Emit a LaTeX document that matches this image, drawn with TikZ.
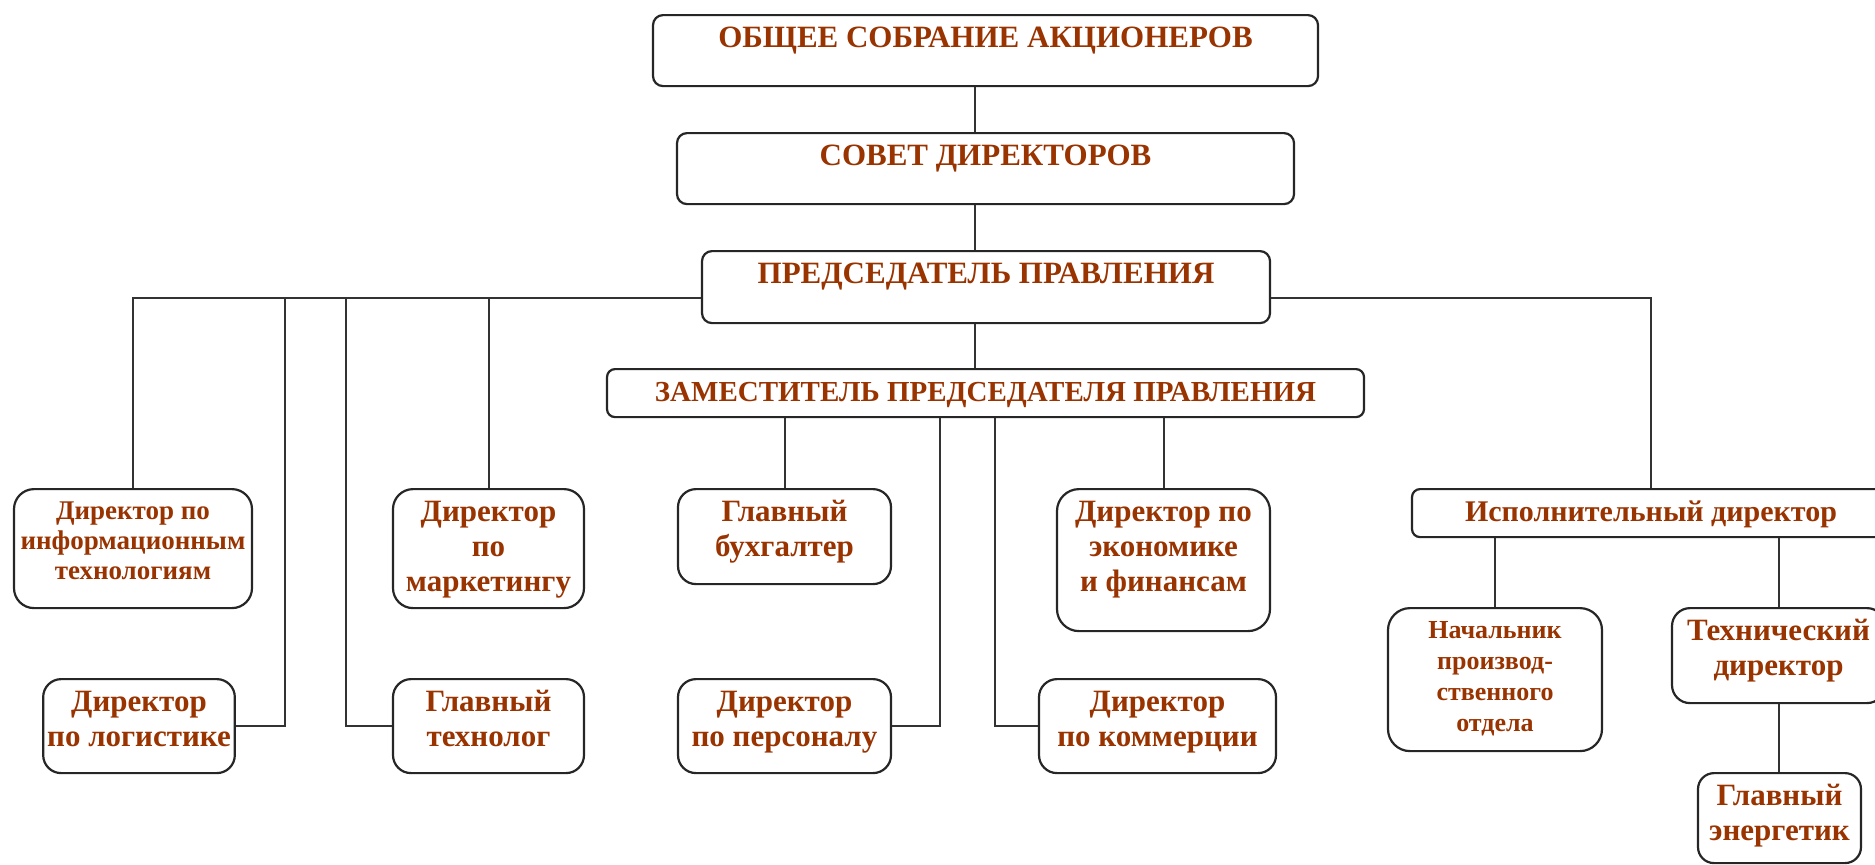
\documentclass[tikz,border=0pt]{standalone}
\usepackage{fontspec}
\setmainfont{Liberation Serif}
\definecolor{txtbrown}{RGB}{153,51,0}
\tikzset{
  unit/.style={draw=black!85, line width=1.1pt, fill=white, align=center, anchor=north,
    inner xsep=2pt, inner ysep=0pt, text height=16pt, text=txtbrown,
    font=\bfseries\fontsize{15.5}{17.5}\selectfont},
  small/.style={font=\bfseries\fontsize{13.5}{15.2}\selectfont},
  link/.style={draw=black!80, line width=1pt}
}
\begin{document}
\begin{tikzpicture}[x=0.5pt, y=-0.5pt]
\useasboundingbox (0,0) rectangle (1875,864);
% top of the chart
\node[unit, minimum width=332.5pt, text depth=19.5pt, rounded corners=5pt] (gsa) at (985.5,14) {ОБЩЕЕ СОБРАНИЕ АКЦИОНЕРОВ};
\node[unit, minimum width=308.5pt, text depth=19.5pt, rounded corners=5pt] (sd) at (985.5,132) {СОВЕТ ДИРЕКТОРОВ};
\node[unit, minimum width=284pt, text depth=20pt, rounded corners=5pt] (pp) at (986,250) {ПРЕДСЕДАТЕЛЬ ПРАВЛЕНИЯ};
\node[unit, minimum width=378.5pt, text depth=8pt, rounded corners=4pt, font=\bfseries\fontsize{14.5}{16}\selectfont] (zam) at (985.5,368) {ЗАМЕСТИТЕЛЬ ПРЕДСЕДАТЕЛЯ ПРАВЛЕНИЯ};
% left branch
\node[unit, small, minimum width=119pt, text height=45.4pt, text depth=14.1pt, rounded corners=10pt] (dit) at (133,488) {Директор по\\информационным\\технологиям};
\node[unit, minimum width=95pt, text height=33.5pt, text depth=13.5pt, rounded corners=9pt] (dlog) at (139,678) {Директор\\по логистике};
\node[unit, minimum width=95.5pt, text height=51pt, text depth=8.5pt, rounded corners=10pt] (dmark) at (488.5,488) {Директор\\по\\маркетингу};
\node[unit, minimum width=95.5pt, text height=33.5pt, text depth=13.5pt, rounded corners=9pt] (gtech) at (488.5,678) {Главный\\технолог};
% under the deputy
\node[unit, minimum width=106.5pt, text height=33.5pt, text depth=14pt, rounded corners=9pt] (gbuh) at (784.5,488) {Главный\\бухгалтер};
\node[unit, minimum width=106.5pt, text height=33.5pt, text depth=13.5pt, rounded corners=9pt] (dpers) at (784.5,678) {Директор\\по персоналу};
\node[unit, minimum width=106.5pt, text height=51pt, text depth=20pt, rounded corners=11pt] (decon) at (1163.5,488) {Директор по\\экономике\\и финансам};
\node[unit, minimum width=118.5pt, text height=33.5pt, text depth=13.5pt, rounded corners=9pt] (dkom) at (1157.5,678) {Директор\\по коммерции};
% right branch
\node[unit, minimum width=239pt, text depth=8pt, rounded corners=4pt, font=\bfseries\fontsize{15}{17}\selectfont] (isp) at (1651,488) {Исполнительный директор};
\node[unit, minimum width=107pt, text height=61.5pt, text depth=10pt, rounded corners=11pt, font=\bfseries\fontsize{13}{15.5}\selectfont] (nach) at (1495,607) {Начальник\\производ-\\ственного\\отдела};
\node[unit, minimum width=106.5pt, text height=33.5pt, text depth=14pt, rounded corners=9pt] (tdir) at (1778.5,607) {Технический\\директор};
\node[unit, minimum width=81.5pt, text height=33.5pt, text depth=11.5pt, rounded corners=8pt] (gen) at (1779.5,772) {Главный\\энергетик};

% connectors
\coordinate (tr) at (975,0);
\coordinate (bus) at (0,298);
\coordinate (vlog) at (285,298);
\coordinate (vtech) at (346,298);
\coordinate (vpers) at (940,0);
\coordinate (vkom) at (995,0);
\draw[link] (gsa.south -| tr) -- (sd.north -| tr);
\draw[link] (sd.south -| tr) -- (pp.north -| tr);
\draw[link] (pp.south -| tr) -- (zam.north -| tr);
\draw[link] (pp.west |- bus) -| (dit.north);
\draw[link] (pp.east |- bus) -| (isp.north);
\draw[link] (dmark.north) -- (dmark.north |- bus);
\draw[link] (dlog.east) -| (vlog);
\draw[link] (gtech.west) -| (vtech);
\draw[link] (zam.south -| gbuh.north) -- (gbuh.north);
\draw[link] (zam.south -| decon.north) -- (decon.north);
\draw[link] (dpers.east) -| (vpers |- zam.south);
\draw[link] (dkom.west) -| (vkom |- zam.south);
\draw[link] (isp.south -| nach.north) -- (nach.north);
\draw[link] (isp.south -| tdir.north) -- (tdir.north);
\draw[link] (tdir.south) -- (tdir.south |- gen.north);
\end{tikzpicture}
\end{document}
